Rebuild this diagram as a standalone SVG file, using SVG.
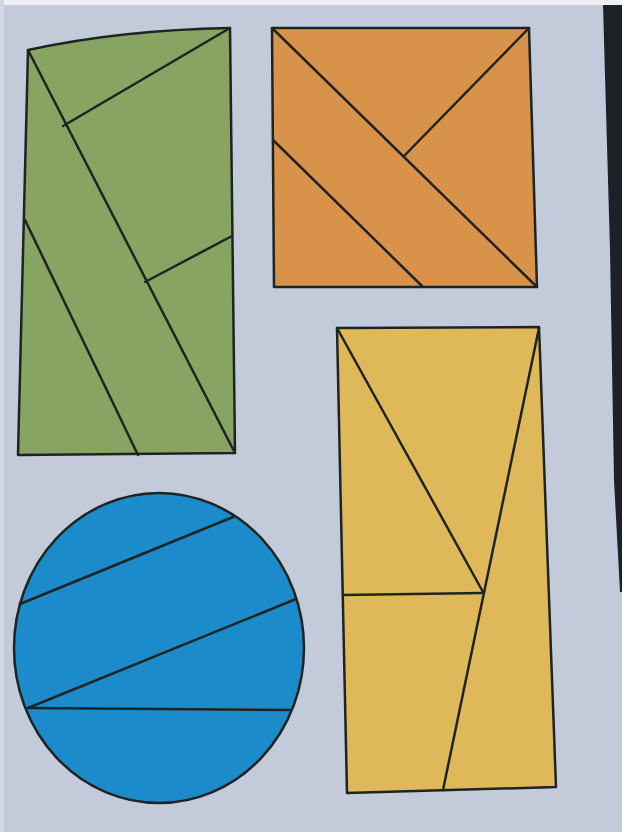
<svg xmlns="http://www.w3.org/2000/svg" width="622" height="832" viewBox="0 0 622 832">
<style>
.sh{stroke:#1e2520;stroke-width:2.5;stroke-linejoin:round}
.ln{stroke:#1e2520;stroke-width:2.5;fill:none;stroke-linecap:round}
</style>
<rect x="0" y="0" width="622" height="832" fill="#c3cbda"/>
<rect x="0" y="0" width="622" height="5" fill="#eef0f4"/>
<rect x="0" y="0" width="4" height="832" fill="#d2d8e2"/>
<path d="M603,5 L622,5 L622,592 L620,592 L614,480 L610,250 Z" fill="#1c2128"/>
<g id="green">
<path class="sh" fill="#87a463" d="M28,50 Q120,30 230,28 L235,453 L18,455 Z"/>
<line class="ln" x1="28" y1="50" x2="235" y2="453"/>
<line class="ln" x1="230" y1="28" x2="63" y2="126"/>
<line class="ln" x1="232" y1="236" x2="145" y2="282"/>
<line class="ln" x1="25" y1="220" x2="138" y2="455"/>
</g>
<g id="orange">
<path class="sh" fill="#d8924a" d="M272,28 L529,28 L537,287 L274,287 Z"/>
<line class="ln" x1="272" y1="28" x2="537" y2="287"/>
<line class="ln" x1="529" y1="28" x2="405" y2="155"/>
<line class="ln" x1="273" y1="140" x2="423" y2="287"/>
</g>
<g id="yellow">
<path class="sh" fill="#dfb85a" d="M337,328 L539,327 L556,787 L347,793 Z"/>
<line class="ln" x1="337" y1="328" x2="483" y2="592"/>
<line class="ln" x1="539" y1="328" x2="443" y2="790"/>
<line class="ln" x1="343" y1="595" x2="483" y2="593"/>
</g>
<g id="blue">
<ellipse class="sh" fill="#1b8bcb" cx="159" cy="648" rx="145" ry="155"/>
<line class="ln" x1="20" y1="604" x2="233" y2="517"/>
<line class="ln" x1="28" y1="708" x2="296" y2="599"/>
<line class="ln" x1="28" y1="708" x2="290" y2="710"/>
</g>
</svg>
